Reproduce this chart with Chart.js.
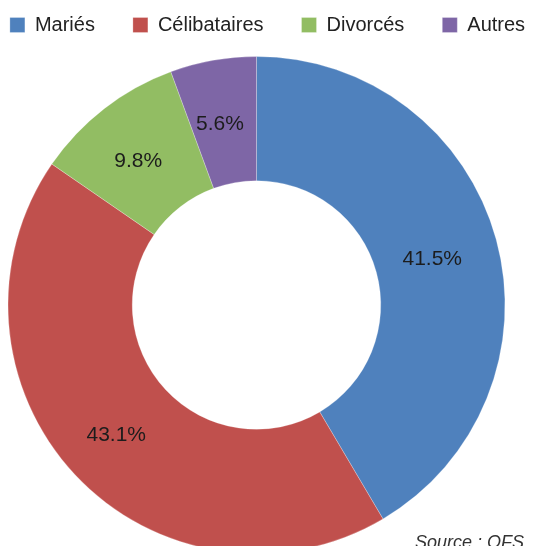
<!DOCTYPE html>
<html>
<head>
<meta charset="utf-8">
<script src="https://cdn.jsdelivr.net/npm/chart.js@4"></script>
<style>
  html, body { margin: 0; padding: 0; background: #fff; overflow: hidden; }
  #wrap { position: absolute; left: 0; top: 0; width: 533px; height: 546px; overflow: hidden; }
  #c { position: absolute; left: -54px; top: 0; }
  #source { position: absolute; left: 415px; top: 532px; font: italic 18px "Liberation Sans", Arial, sans-serif; color: #333; white-space: nowrap; }
</style>
</head>
<body>
<div id="wrap">
  <canvas id="c" width="621" height="566" style="width:621px;height:566px"></canvas>
  <div id="source">Source : OFS</div>
</div>
<script>
const categories = ['Mariés', 'Célibataires', 'Divorcés', 'Autres'];
const shares = [41.5, 43.1, 9.8, 5.6];
const sliceColors = ['#4F81BD', '#C0504D', '#92BD63', '#7E66A6'];

const sliceLabels = {
  id: 'sliceLabels',
  afterDatasetsDraw(chart) {
    const ctx = chart.ctx;
    const meta = chart.getDatasetMeta(0);
    ctx.save();
    ctx.font = '21px "Liberation Sans", Arial, sans-serif';
    ctx.fillStyle = '#1c1c1c';
    ctx.textAlign = 'center';
    ctx.textBaseline = 'middle';
    meta.data.forEach((arc, i) => {
      const p = arc.tooltipPosition();
      ctx.fillText(shares[i].toFixed(1) + '%', p.x - 4, p.y + 3);
    });
    ctx.restore();
  }
};

const legendNudge = {
  id: 'legendNudge',
  afterLayout(chart) {
    const l = chart.legend;
    if (l) { l.left += 11; l.right += 11; l.top += 1; l.bottom += 1; }
  }
};

new Chart(document.getElementById('c'), {
  type: 'doughnut',
  data: {
    labels: categories,
    datasets: [{
      data: shares,
      backgroundColor: sliceColors,
      borderColor: 'rgba(255,255,255,0.5)',
      borderWidth: 0.5,
      radius: 248.5
    }]
  },
  options: {
    responsive: false,
    devicePixelRatio: 1,
    animation: false,
    cutout: '50%',
    layout: { padding: { top: -24, left: 0, right: 0, bottom: 0 } },
    plugins: {
      tooltip: { enabled: false },
      legend: {
        position: 'top',
        labels: {
          boxWidth: 15,
          boxHeight: 15,
          padding: 38,
          color: '#222',
          font: { size: 20, family: '"Liberation Sans", Arial, sans-serif' }
        }
      }
    }
  },
  plugins: [sliceLabels, legendNudge]
});
</script>
</body>
</html>
